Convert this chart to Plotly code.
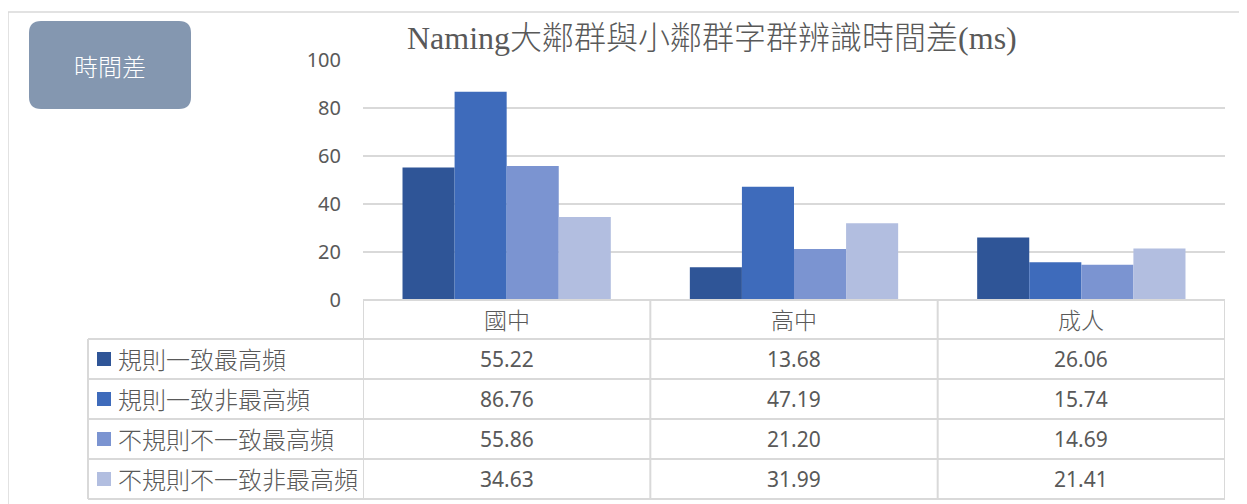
import plotly.graph_objects as go

W, H = 1247, 504
OX, OY = 8, 8  # page body margin shifts the figure, so pull everything back

categories = ["國中", "高中", "成人"]
series_names = ["規則一致最高頻", "規則一致非最高頻", "不規則不一致最高頻", "不規則不一致非最高頻"]
s1 = [55.22, 13.68, 26.06]
s2 = [86.76, 47.19, 15.74]
s3 = [55.86, 21.20, 14.69]
s4 = [34.63, 31.99, 21.41]
series_values = [s1, s2, s3, s4]
colors = ["#2f5597", "#3e6bbb", "#7b94d1", "#b2bee0"]

title = "Naming大鄰群與小鄰群字群辨識時間差(ms)"
badge = "時間差"

GRID = "#d9d9d9"
TXT = "#595959"
FONT = "Noto Sans, Noto Sans CJK TC, sans-serif"


def px(x):
    return (x - OX) / W


def py(y):
    return 1 - (y - OY) / H


fig = go.Figure()
for name, vals, c in zip(series_names, series_values, colors):
    fig.add_trace(go.Bar(x=categories, y=vals, name=name, marker=dict(color=c, line=dict(width=0)),
                         showlegend=False))

shapes = []
annotations = []


def label(text, x, y, size, color=TXT, family=FONT, xref="paper", xanchor="center", weight=None):
    f = dict(size=size, color=color, family=family)
    if weight:
        f["weight"] = weight
    annotations.append(dict(text=text, xref=xref, yref="paper", x=x, y=y, xanchor=xanchor, yanchor="middle",
                            showarrow=False, font=f))


# outer frame (bottom edge runs off the page)
shapes.append(dict(type="rect", xref="paper", yref="paper", x0=px(8), x1=px(1245), y0=py(530), y1=py(12),
                   line=dict(color=GRID, width=1.5)))

# badge box top-left
shapes.append(dict(type="path", xref="paper", yref="paper",
                   path="M {a},{b} L {c},{b} Q {d},{b} {d},{e} L {d},{f} Q {d},{g} {c},{g} L {a},{g} Q {h},{g} {h},{f} L {h},{e} Q {h},{b} {a},{b} Z".format(
                       a=px(41), c=px(179), d=px(191), h=px(29), b=py(21), e=py(33), f=py(97), g=py(109)),
                   fillcolor="#8497b0", line=dict(width=0)))
label(badge, px(110), py(65), 24, color="white", family="Noto Sans CJK TC", weight=300)

# title
label(title, px(712), py(38), 32, family="Liberation Serif, Noto Sans CJK TC", weight=300)

# data table
row_lines = [339, 379, 419, 459, 499]
left = px(88)
for yl in row_lines:
    shapes.append(dict(type="line", xref="paper", yref="paper", x0=left, x1=px(1225), y0=py(yl), y1=py(yl),
                       line=dict(color=GRID, width=2)))
shapes.append(dict(type="line", xref="paper", yref="paper", x0=px(363), x1=px(1225), y0=py(300), y1=py(300),
                   line=dict(color=GRID, width=2)))
shapes.append(dict(type="line", xref="paper", yref="paper", x0=left, x1=left, y0=py(339), y1=py(499),
                   line=dict(color=GRID, width=2)))
for xe in [-0.5, 0.5, 1.5, 2.5]:
    shapes.append(dict(type="line", xref="x", yref="paper", x0=xe, x1=xe, y0=py(300), y1=py(499),
                       line=dict(color=GRID, width=2)))

for i, cat in enumerate(categories):
    label(cat, i, py(320), 23, xref="x", weight=300)

for r, (name, vals, c) in enumerate(zip(series_names, series_values, colors)):
    yc = (row_lines[r] + row_lines[r + 1]) / 2
    shapes.append(dict(type="rect", xref="paper", yref="paper", x0=px(97), x1=px(111), y0=py(yc - 7), y1=py(yc + 7),
                       fillcolor=c, line=dict(width=0)))
    label(name, px(116), py(yc), 24, xanchor="left", weight=300)
    for i, v in enumerate(vals):
        label(f"{v:.2f}", i, py(yc), 21, xref="x")

fig.update_layout(
    width=W, height=H,
    margin=dict(l=0, r=0, t=0, b=0),
    paper_bgcolor="white", plot_bgcolor="white",
    barmode="group", bargap=0.275, bargroupgap=0,
    font=dict(family=FONT, color=TXT),
    xaxis=dict(domain=[px(363), px(1225)], range=[-0.5, 2.5], showticklabels=False, showgrid=False,
               zeroline=False, showline=False, ticks="", automargin=False),
    yaxis=dict(domain=[py(300), py(60)], range=[0, 100], dtick=20, showgrid=True, gridcolor=GRID,
               gridwidth=1.5, zeroline=False, showline=False, ticks="", ticklabelstandoff=21,
               automargin=False, tickfont=dict(size=20, color=TXT)),
    shapes=shapes, annotations=annotations,
)

fig.write_html("out.html")
